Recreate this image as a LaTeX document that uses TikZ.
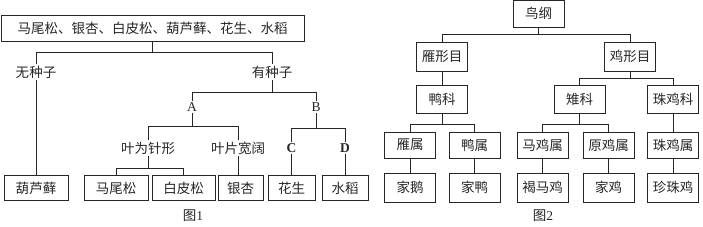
\documentclass[tikz,border=0pt]{standalone}
\usepackage{fontspec}
\setmainfont{Liberation Serif}
\newfontfamily\cjk{Noto Sans CJK SC}
\begin{document}
\begin{tikzpicture}[x=1pt, y=-1pt, line width=0.8pt, draw=black!85,
	every node/.style={font=\cjk\fontsize{13.5}{16}\selectfont, text=black!85, inner sep=1pt},
	box/.style={draw, minimum height=25pt, inner sep=3pt},
	bbox/.style={box, minimum width=51pt, minimum height=28pt},
	letter/.style={font=\rmfamily\fontsize{13.5}{16}\selectfont}]
	\useasboundingbox (0,0) rectangle (703,227);
	% Figure 1
	\node[box, minimum width=303pt, minimum height=26pt] (all) at (152.5,28) {马尾松、银杏、白皮松、葫芦藓、花生、水稻};
	\node (wu) at (36,72) {无种子};
	\node (you) at (272,72) {有种子};
	\node[letter] (A) at (192,107) {A};
	\node[letter] (B) at (316,107) {B};
	\node (needle) at (148,148) {叶为针形};
	\node (broad) at (238,148) {叶片宽阔};
	\node[letter, font=\rmfamily\bfseries\fontsize{13.5}{16}\selectfont] (C) at (291.5,148) {C};
	\node[letter, font=\rmfamily\bfseries\fontsize{13.5}{16}\selectfont] (D) at (345,148) {D};
	\node[box, minimum width=64pt] (hulu) at (36,188) {葫芦藓};
	\node[box, minimum width=64pt] (mawei) at (116,188) {马尾松};
	\node[box, minimum width=63pt] (baipi) at (183.5,188) {白皮松};
	\node[box, minimum width=45pt] (yinxing) at (240.5,188) {银杏};
	\node[box, minimum width=47pt] (huasheng) at (291.5,188) {花生};
	\node[box, minimum width=46pt] (shuidao) at (345,188) {水稻};
	\node (fig1) at (193,216) {图\rmfamily 1};
	\draw (all.south) -- ++(0,11) coordinate (s1);
	\draw (wu.north) |- (s1) -| (you.north);
	\draw (you.south) -- ++(0,13) coordinate (s2);
	\draw (A.north) |- (s2) -| (B.north);
	\draw (A.south) -- ++(0,14) coordinate (s3);
	\draw (needle.north) |- (s3) -| (broad.north);
	\draw (B.south) -- ++(0,16) coordinate (s4);
	\draw (C.north) |- (s4) -| (D.north);
	\draw (needle.south) -- ++(0,13) coordinate (s5);
	\draw (mawei.north) |- (s5) -| (baipi.north);
	\draw (wu.south) -- (hulu.north);
	\draw (broad.south) -- (broad.south |- yinxing.north);
	\draw (C.south) -- (huasheng.north);
	\draw (D.south) -- (shuidao.north);
	% Figure 2
	\node[bbox, minimum height=27pt] (niao) at (538.5,13.5) {鸟纲};
	\node[bbox, minimum height=29pt] (yanxing) at (442,56.5) {雁形目};
	\node[bbox, minimum height=29pt] (jixing) at (630,56.5) {鸡形目};
	\node[bbox] (yake) at (442,99) {鸭科};
	\node[bbox] (zhike) at (579.5,99) {雉科};
	\node[bbox] (zhujike) at (673,99) {珠鸡科};
	\node[bbox, minimum height=26pt] (yanshu) at (410,145) {雁属};
	\node[bbox, minimum height=26pt] (yashu) at (474.5,145) {鸭属};
	\node[bbox, minimum height=26pt] (majishu) at (542.5,145) {马鸡属};
	\node[bbox, minimum height=26pt] (yuanjishu) at (608.5,145) {原鸡属};
	\node[bbox, minimum height=26pt] (zhujishu) at (673,145) {珠鸡属};
	\node[bbox, minimum height=29pt] (jiae) at (410,187.5) {家鹅};
	\node[bbox, minimum height=29pt] (jiaya) at (474.5,187.5) {家鸭};
	\node[bbox, minimum height=29pt] (hemaji) at (542.5,187.5) {褐马鸡};
	\node[bbox, minimum height=29pt] (jiaji) at (608.5,187.5) {家鸡};
	\node[bbox, minimum height=29pt] (zhenzhuji) at (673,187.5) {珍珠鸡};
	\node (fig2) at (543,216) {图\rmfamily 2};
	\draw (niao.south) -- ++(0,7) coordinate (t1);
	\draw (yanxing.north) |- (t1) -| (jixing.north);
	\draw (yanxing.south) -- (yake.north);
	\draw (jixing.south) -- ++(0,7) coordinate (t2);
	\draw (zhike.north) |- (t2) -| (zhujike.north);
	\draw (yake.south) -- ++(0,11) coordinate (t3);
	\draw (yanshu.north) |- (t3) -| (yashu.north);
	\draw (zhike.south) -- ++(0,11) coordinate (t4);
	\draw (majishu.north) |- (t4) -| (yuanjishu.north);
	\draw (zhujike.south) -- (zhujishu.north);
	\draw (yanshu.south) -- (jiae.north);
	\draw (yashu.south) -- (jiaya.north);
	\draw (majishu.south) -- (hemaji.north);
	\draw (yuanjishu.south) -- (jiaji.north);
	\draw (zhujishu.south) -- (zhenzhuji.north);
\end{tikzpicture}
\end{document}
